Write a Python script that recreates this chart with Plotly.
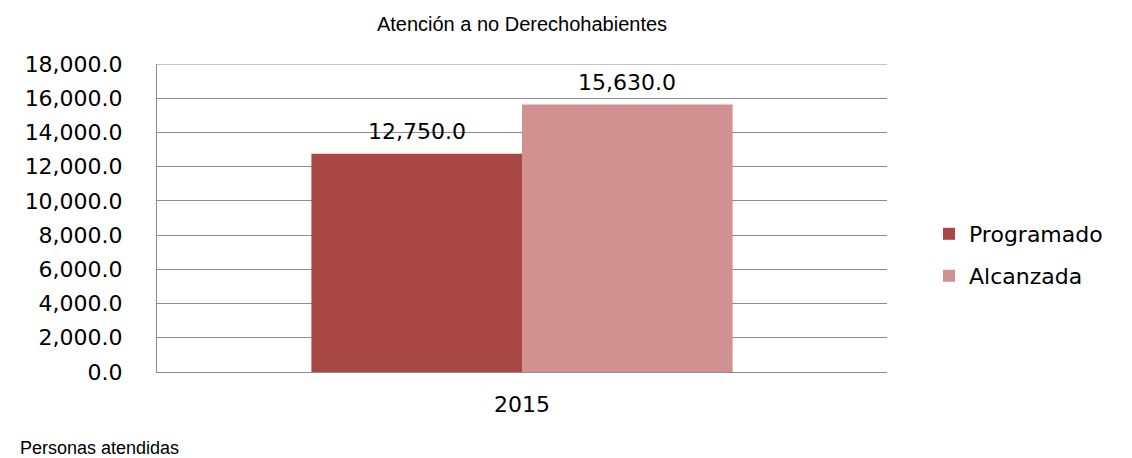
import plotly.graph_objects as go

categories = ["2015"]
programado = [12750.0]
alcanzada = [15630.0]
series_names = ["Programado", "Alcanzada"]
title_text = "Atención a no Derechohabientes"
note_text = "Personas atendidas"
y_ticks = [0, 2000, 4000, 6000, 8000, 10000, 12000, 14000, 16000, 18000]

colors = ["#A94745", "#D29191"]
grid_color = "#8C8C8C"
tick_font = dict(family="DejaVu Sans", size=22, color="#000000")

# figure is offset 8px by the page's body margin; sizes compensate
W, H = 1124, 450
ML, MR, MT, MB = 149, 245, 56, 86
PW = W - ML - MR
PH = H - MT - MB
BARGAP = 0.423

fig = go.Figure()
series = [programado, alcanzada]
legend_ids = ["legend", "legend2"]
legend_y = [234, 276]
bar_w = (1 - BARGAP) / len(series) * PW
for i, (name, vals, col) in enumerate(zip(series_names, series, colors)):
    fig.add_trace(go.Bar(
        x=categories, y=vals, name=name, legend=legend_ids[i],
        marker=dict(color=col, line=dict(width=0)),
    ))
    for ci, v in enumerate(vals):
        # category index position (numeric-looking category names are read as indices)
        fig.add_annotation(x=ci, y=v, xref="x", yref="y", text=f"{v:,.1f}",
                           showarrow=False, yanchor="middle", yshift=22,
                           xshift=(i - (len(series) - 1) / 2) * bar_w,
                           font=tick_font)

legend_common = dict(x=1.0575, xanchor="left", yanchor="middle",
                     font=dict(family="DejaVu Sans", size=22, color="#000000"),
                     itemwidth=30, bgcolor="rgba(0,0,0,0)")
fig.update_layout(
    width=W, height=H,
    margin=dict(l=ML, r=MR, t=MT, b=MB),
    paper_bgcolor="white", plot_bgcolor="white",
    barmode="group", bargap=BARGAP, bargroupgap=0,
    title=dict(text=title_text, x=0.5, xref="paper", y=1 - 16 / H, yref="container",
               yanchor="middle",
               font=dict(family="Liberation Sans", size=20, color="#000000")),
    legend=dict(y=(372 - legend_y[0]) / PH, **legend_common),
    legend2=dict(y=(372 - legend_y[1]) / PH, **legend_common),
    showlegend=True,
)
fig.add_annotation(text=note_text, xref="paper", yref="paper",
                   x=-(ML - 10) / PW, y=-(440 - (H - MB)) / PH, xanchor="left", yanchor="middle",
                   showarrow=False, font=dict(family="Liberation Sans", size=18, color="#000000"))
fig.add_shape(type="line", xref="paper", yref="y", x0=0, x1=1, y0=y_ticks[-1], y1=y_ticks[-1],
              line=dict(color=grid_color, width=1), layer="below")

fig.update_yaxes(range=[0, 18000], tickvals=y_ticks, tickformat=",.1f",
                 showgrid=True, gridcolor=grid_color, gridwidth=1,
                 showline=True, linecolor=grid_color, linewidth=1,
                 ticks="", ticklabelstandoff=29, tickfont=tick_font, zeroline=False)
fig.update_xaxes(type="category", range=[-0.5, 0.5], showline=True, linecolor=grid_color, linewidth=1,
                 ticks="", tickfont=tick_font, ticklabelstandoff=13)

fig.write_html("out.html")
